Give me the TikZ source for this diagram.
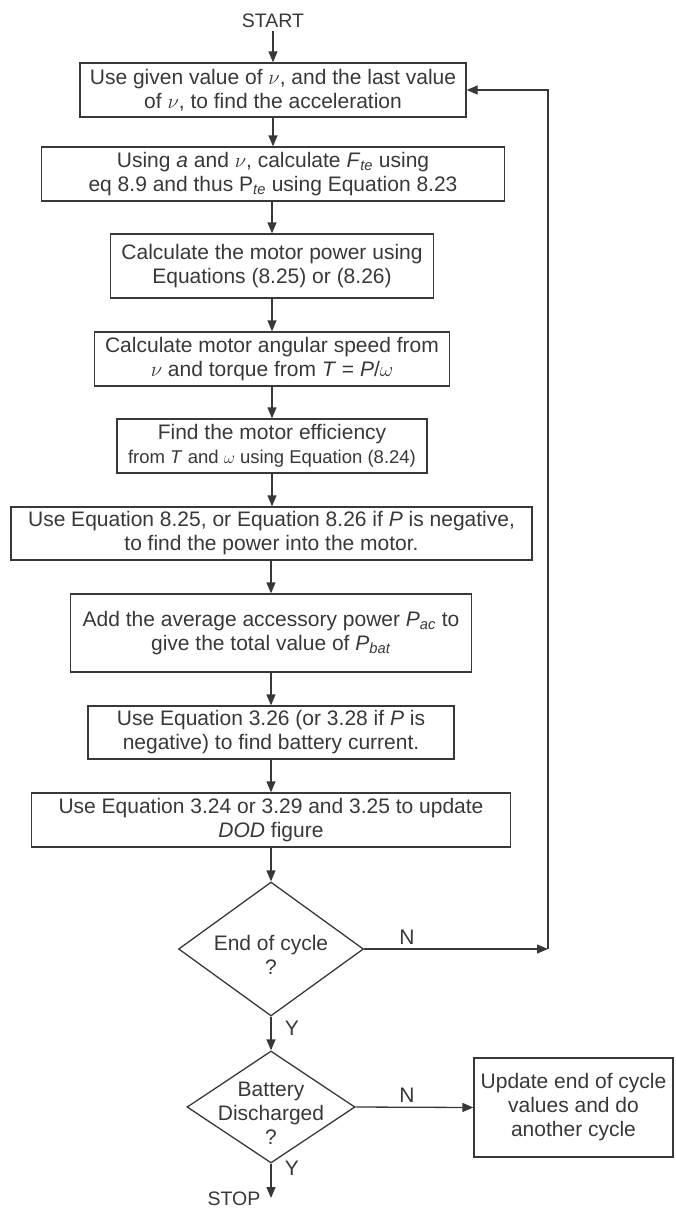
\documentclass[tikz,border=0pt]{standalone}
\usepackage{fontspec}
\setmainfont{Liberation Sans}
\usetikzlibrary{arrows.meta,shapes.geometric}
\definecolor{ink}{gray}{0.22}
\newcommand\dlabel[1]{\raisebox{-14pt}[0pt][0pt]{\makebox[0pt]{\begin{tabular}{@{}c@{}}#1\end{tabular}}}}
\begin{document}
\begin{tikzpicture}[x=1pt,y=-1pt,
  every node/.style={text=ink},
  proc/.style={draw=ink, line width=1.3pt, rectangle, inner sep=0pt, align=center,
    font=\fontsize{21}{24}\selectfont},
  dec/.style={draw=ink, line width=1.3pt, diamond, inner sep=0pt,
    font=\fontsize{21}{24}\selectfont},
  lbl/.style={font=\fontsize{21}{24}\selectfont, inner sep=0pt},
  arr/.style={draw=ink, line width=1.3pt, -{Triangle[length=11pt,width=9pt]}},
]
\useasboundingbox (0,0) rectangle (676,1208);

\node[lbl, font=\fontsize{19.5}{22}\selectfont, inner sep=3pt] (start) at (273,21) {START};

\node[proc, minimum width=386, minimum height=54] (b1) at (273,90)
  {Use given value of $\nu$, and the last value\\of $\nu$, to find the acceleration};
\node[proc, minimum width=463, minimum height=54] (b2) at (273,174)
  {Using \textit{a} and $\nu$, calculate \textit{F}\textsubscript{\textit{te}} using\\eq 8.9 and thus P\textsubscript{\textit{te}} using Equation 8.23};
\node[proc, minimum width=323, minimum height=64] (b3) at (272,266)
  {Calculate the motor power using\\Equations (8.25) or (8.26)};
\node[proc, minimum width=355, minimum height=54] (b4) at (272,359)
  {Calculate motor angular speed from\\$\nu$ and torque from \textit{T} = \textit{P}/$\omega$};
\node[proc, minimum width=310, minimum height=54] (b5) at (272,446)
  {Find the motor efficiency\\{\fontsize{18.5}{24}\selectfont from \textit{T} and $\omega$ using Equation (8.24)}};
\node[proc, minimum width=521, minimum height=53] (b6) at (271.5,533.5)
  {Use Equation 8.25, or Equation 8.26 if \textit{P} is negative,\\to find the power into the motor.};
\node[proc, minimum width=401, minimum height=78] (b7) at (271,633)
  {Add the average accessory power \textit{P}\textsubscript{\textit{ac}} to\\give the total value of \textit{P}\textsubscript{\textit{bat}}};
\node[proc, minimum width=366, minimum height=53] (b8) at (271,732.5)
  {Use Equation 3.26 (or 3.28 if \textit{P} is\\negative) to find battery current.};
\node[proc, minimum width=479, minimum height=54] (b9) at (271,820)
  {Use Equation 3.24 or 3.29 and 3.25 to update\\\textit{DOD} figure};

\node[dec, minimum width=185, minimum height=134] (d1) at (271,949)
  {\dlabel{End of cycle\\?}};
\node[dec, minimum width=168, minimum height=112] (d2) at (271,1107)
  {\dlabel{Battery\\Discharged\\?}};
\node[proc, minimum width=199, minimum height=99] (b10) at (573.5,1107.5)
  {Update end of cycle\\values and do\\another cycle};

\node[lbl] (n1) at (407,937) {N};
\node[lbl] (y1) at (292,1028) {Y};
\node[lbl] (n2) at (407,1095) {N};
\node[lbl] (y2) at (292,1168) {Y};
\node[lbl, font=\fontsize{19.5}{22}\selectfont] (stop) at (234,1199) {STOP};

\coordinate (loop) at (548,949);
\coordinate (stopend) at (271,1198);

\draw[arr] (start.south) -- (b1.north);
\draw[arr] (b1.south) -- (b1.south |- b2.north);
\draw[arr] (b2.south -| b3.north) -- (b3.north);
\draw[arr] (b3.south) -- (b3.south |- b4.north);
\draw[arr] (b4.south) -- (b4.south |- b5.north);
\draw[arr] (b5.south) -- (b5.south |- b6.north);
\draw[arr] (b6.south -| b7.north) -- (b7.north);
\draw[arr] (b7.south) -- (b7.south |- b8.north);
\draw[arr] (b8.south) -- (b8.south |- b9.north);
\draw[arr] (b9.south) -- (b9.south |- d1.north);
\draw[arr] (d1.south) -- (d2.north);
\draw[arr] (d1.east) -- (loop);
\draw[arr] (loop) -- (loop |- b1.east) -- (b1.east);
\draw[arr] (d2.east) -- (b10.west);
\draw[arr] (d2.south) -- (stopend);
\end{tikzpicture}
\end{document}
